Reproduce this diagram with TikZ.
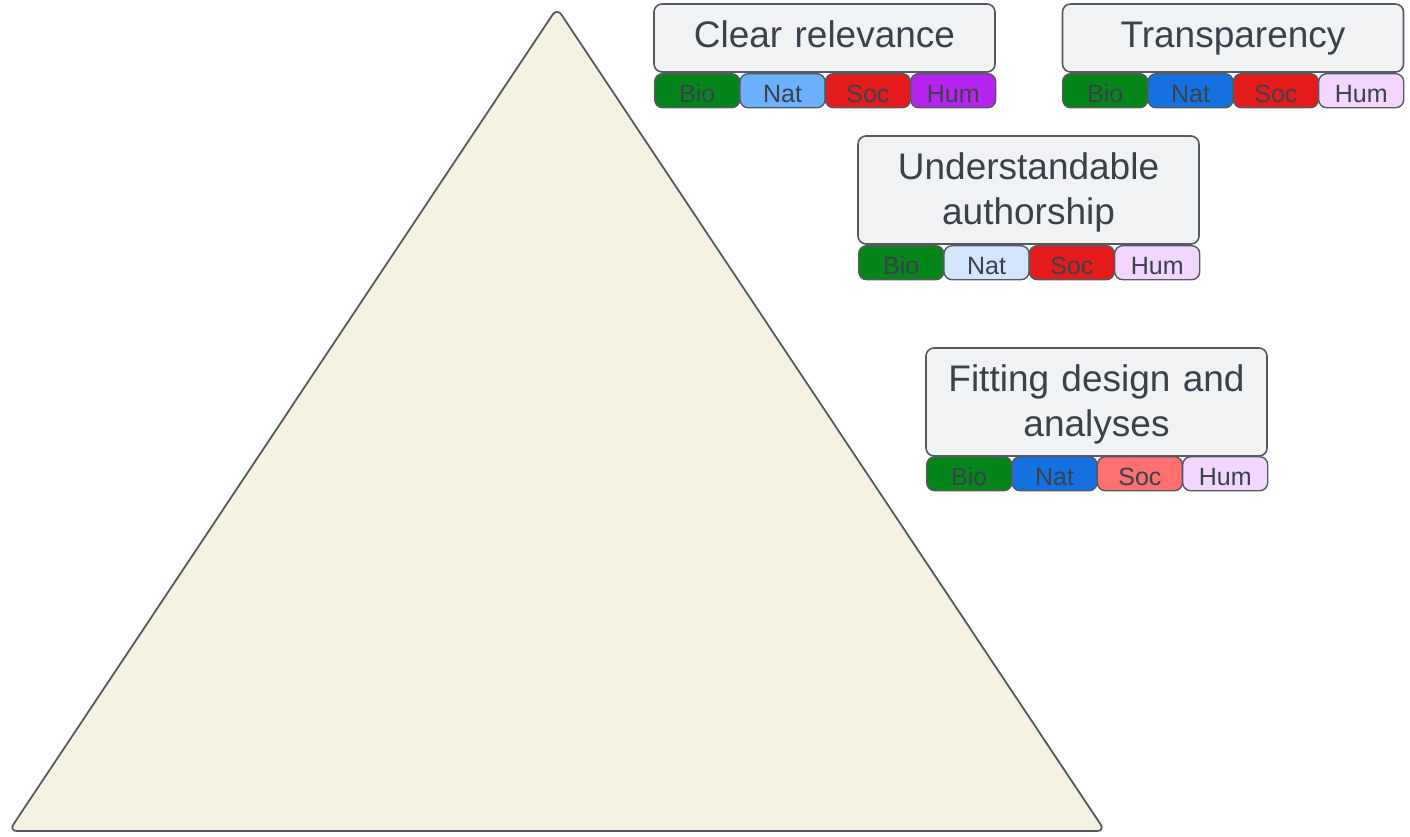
\documentclass[tikz,border=0pt]{standalone}
\usepackage{fontspec}
\setmainfont{Liberation Sans}
\definecolor{ink}{HTML}{3A414A}
\definecolor{edge}{HTML}{555A60}
\definecolor{boxfill}{HTML}{F1F2F4}
\definecolor{pyramid}{HTML}{F5F2E2}
\definecolor{bio}{HTML}{04851A}
\definecolor{natlight}{HTML}{6DB0FF}
\definecolor{natblue}{HTML}{1570E0}
\definecolor{natpale}{HTML}{D3E6FF}
\definecolor{socred}{HTML}{E51A1A}
\definecolor{socpale}{HTML}{FF7070}
\definecolor{humpurple}{HTML}{B624F0}
\definecolor{humpale}{HTML}{F3D6FF}
\tikzset{
  criterion/.style={draw=edge, line width=1.6pt, fill=boxfill, rounded corners=8pt,
    minimum width=341pt, text width=330pt, align=center, inner sep=0pt,
    text=ink, font=\fontsize{37}{45}\selectfont, execute at begin node=\strut},
  field/.style={draw=edge, line width=1.4pt, rounded corners=8pt, anchor=north west,
    minimum width=85pt, minimum height=34pt, inner sep=0pt, text=ink,
    text height=23pt, text depth=0pt, font=\fontsize{25}{30}\selectfont}
}
% one row of four discipline tags under a criterion box
\newcommand\fieldrow[7]{%
  \node[field, fill=#4] (#1bio) at (#2,#3) {Bio};
  \node[field, fill=#5] (#1nat) at (#2+85.33,#3) {Nat};
  \node[field, fill=#6] (#1soc) at (#2+170.67,#3) {Soc};
  \node[field, fill=#7] (#1hum) at (#2+256,#3) {Hum};
}
\begin{document}
\begin{tikzpicture}[x=1pt,y=-1pt]
\useasboundingbox (0,0) rectangle (1410,836);
% pyramid
\coordinate (apex) at (557,8);
\coordinate (left) at (9,831);
\coordinate (right) at (1105,831);
\draw[edge, line width=1.8pt, fill=pyramid, rounded corners=8pt]
  (apex) -- (right) -- (left) -- cycle;
% criteria
\node[criterion, minimum height=68pt] (relevance) at (824.5,38) {Clear relevance};
\fieldrow{rel}{654}{73}{bio}{natlight}{socred}{humpurple}
\node[criterion, minimum height=68pt] (transparency) at (1233,38) {Transparency};
\fieldrow{tra}{1062}{73}{bio}{natblue}{socred}{humpale}
\node[criterion, minimum height=108pt] (authorship) at (1028.5,190) {Understandable\\authorship};
\fieldrow{aut}{858}{245}{bio}{natpale}{socred}{humpale}
\node[criterion, minimum height=108pt] (design) at (1096.5,402) {Fitting design and\\analyses};
\fieldrow{des}{926}{456}{bio}{natblue}{socpale}{humpale}
\end{tikzpicture}
\end{document}
